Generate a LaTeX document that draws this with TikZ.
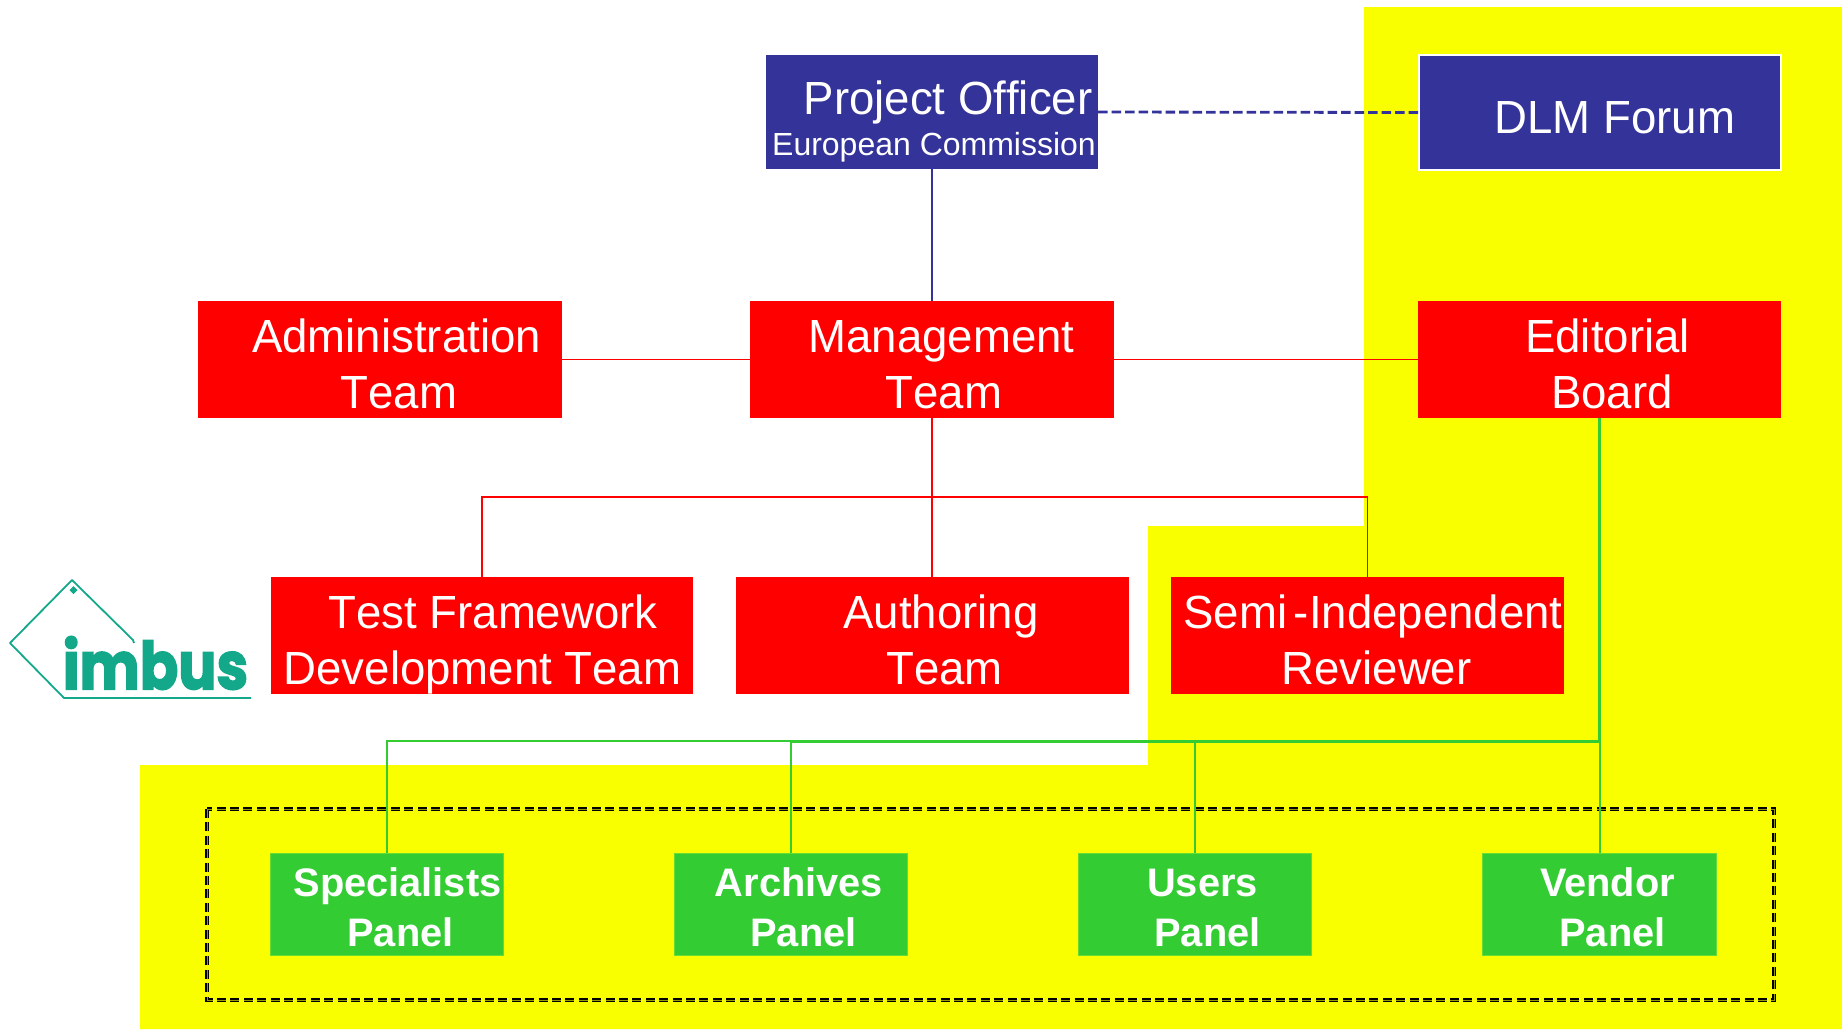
\documentclass[tikz,border=0pt]{standalone}
\usepackage{fontspec}
\setmainfont{Liberation Sans}
\newfontfamily\regf[FakeStretch=0.98,Kerning=Off]{Liberation Sans}
\newfontfamily\euf{Liberation Sans}
\newfontfamily\panelf[BoldFont={Liberation Sans Bold}]{Liberation Sans}
\newfontfamily\logof[BoldFeatures={FakeBold=2.5}]{Poppins}
\newcommand{\lowby}{20.8}
\newcommand{\cln}[3][\lowby]{\smash{\raisebox{-#1pt}{\makebox[0pt]{\hspace*{#2pt}#3}}}}
\definecolor{bluebox}{HTML}{333399}
\definecolor{greenbox}{HTML}{33CC33}
\definecolor{greenedge}{HTML}{66DD33}
\definecolor{hilite}{HTML}{FAFF00}
\definecolor{teal}{HTML}{14A88B}
\tikzset{
  box/.style={rectangle,inner sep=0pt,align=center,text=white,font={\regf\fontsize{46.5}{56}\selectfont}},
  redbox/.style={box,fill=red},
  bluenode/.style={box,fill=bluebox},
  panel/.style={box,fill=greenbox,draw=greenedge,line width=.8pt,minimum width=233.5pt,minimum height=102pt,font={\panelf\bfseries\fontsize{39.8}{50}\selectfont\renewcommand{\lowby}{16.5}}},
  redline/.style={red,line width=1.8pt},
  greenthin/.style={greenbox,line width=2pt},
  greenthick/.style={greenbox,line width=3pt},
  blueline/.style={bluebox,line width=1.8pt},
}
\begin{document}
\begin{tikzpicture}[x=1pt,y=-1pt]
\useasboundingbox (0,0) rectangle (1842,1029);
\fill[hilite] (1364,7) -- (1842,7) -- (1842,1029) -- (140,1029) -- (140,765) -- (1148,765) -- (1148,526) -- (1364,526) -- cycle;
\node[bluenode,minimum width=332pt,minimum height=114pt] (po) at (932,112) {\cln[30.3]{32}{Project Officer}\\\cln[15]{4}{\euf\fontsize{32}{40}\selectfont European Commission}};
\node[bluenode,draw=white,line width=1.6pt,minimum width=362pt,minimum height=115pt] (dlm) at (1600,112.5) {\cln[20.5]{30}{DLM Forum}};
\node[redbox,minimum width=364pt,minimum height=117pt] (admin) at (380,359.5) {\cln{33}{Administration}\\\cln{38}{Team}};
\node[redbox,minimum width=364pt,minimum height=117pt] (mgmt) at (932,359.5) {\cln{19}{Management}\\\cln{24}{Team}};
\node[redbox,minimum width=363pt,minimum height=117pt] (ed) at (1599.5,359.5) {\cln{16}{Editorial}\\\cln{25}{Board}};
\node[redbox,minimum width=422pt,minimum height=117pt] (tf) at (482,635.5) {\cln{22}{Test Framework}\\\cln{1}{Development Team}};
\node[redbox,minimum width=393pt,minimum height=117pt] (auth) at (932.5,635.5) {\cln{17}{Authoring}\\\cln{24}{Team}};
\node[redbox,minimum width=393pt,minimum height=117pt] (semi) at (1367.5,635.5) {\cln{11}{\spaceskip=6.5pt Semi -Independent}\\\cln{18}{Reviewer}};
\node[panel] (spec) at (387,904.5) {\cln{21}{Specialists}\\\cln{27}{Panel}};
\node[panel] (arch) at (791,904.5) {\cln{16}{Archives}\\\cln{25}{Panel}};
\node[panel] (users) at (1195,904.5) {\cln{15}{Users}\\\cln{25}{Panel}};
\node[panel] (vend) at (1599.5,904.5) {\cln{16}{Vendor}\\\cln{26}{Panel}};
% dashed frame
\draw[black,line width=1.3pt,double=hilite!60!black,double distance=.5pt,dash pattern=on 9pt off 4.4pt] (207,809) rectangle (1774,1000);
% connectors
\coordinate (rbus) at (932,497);
\coordinate (gbus) at (1600,741);
\draw[blueline] (po.south) -- (mgmt.north);
\draw[bluebox,line width=2.8pt,dash pattern=on 9.5pt off 4pt] (po.east) -- (dlm.west);
\draw[redline] (admin.east) -- (mgmt.west);
\draw[redline] (mgmt.east) -- (ed.west);
\draw[redline] (mgmt.south) -- (mgmt.south |- auth.north);
\draw[redline] (tf.north) |- (rbus) -| (semi.north);
\draw[greenthick] (ed.south) -- (ed.south |- gbus) -- (arch.north |- gbus);
\draw[greenthin] (arch.north |- gbus) -- (spec.north |- gbus) -- (spec.north);
\draw[greenthin] (arch.north) -- (arch.north |- gbus);
\draw[greenthin] (users.north) -- (users.north |- gbus);
\draw[greenthin] (vend.north) -- (vend.north |- gbus);
% logo
\draw[teal,line width=1.8pt,line join=round] (134,643) -- (133,640) -- (72,580) -- (10,643) -- (64,698) -- (251,698);
\fill[teal] (73.5,586) -- (77.5,590) -- (73.5,594) -- (69.5,590) -- cycle;
\node[inner sep=0pt,text=teal,xscale=.86,font={\logof\bfseries\fontsize{66}{66}\selectfont}] (logo) at (155.5,663) {imbus};
\end{tikzpicture}
\end{document}
